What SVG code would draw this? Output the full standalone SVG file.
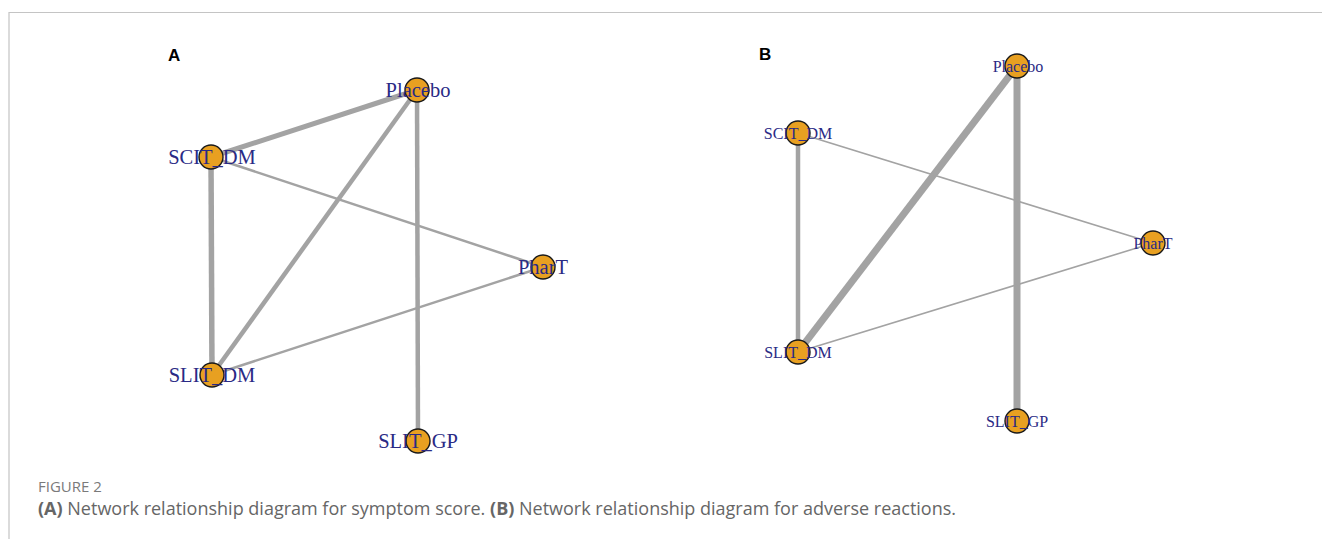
<svg xmlns="http://www.w3.org/2000/svg" width="1322" height="539" viewBox="0 0 1322 539">
  <style>
    .frame { stroke: #c4c4c4; stroke-width: 1.2; fill: none; }
    .panel { font-family: "Liberation Sans", Arial, sans-serif; font-weight: bold; font-size: 17px; fill: #000; }
    .edge { stroke: #a3a3a3; stroke-linecap: butt; fill: none; }
    .node circle { fill: #e8a021; stroke: #1a1a1a; stroke-width: 1.4; }
    .lblA { font-family: "Liberation Serif", "Times New Roman", serif; font-size: 20.5px; fill: #2a2a85; text-anchor: middle; }
    .lblB { font-family: "Liberation Serif", "Times New Roman", serif; font-size: 16px; fill: #2a2a85; text-anchor: middle; }
    .fig { font-family: "Open Sans", "Noto Sans", sans-serif; font-size: 15px; fill: #7a7a7a; }
    .cap { font-family: "Open Sans", "Noto Sans", sans-serif; font-size: 18px; fill: #666; }
    .cap tspan.b { font-weight: bold; }
  </style>
  <rect width="1322" height="539" fill="#fff"/>
  <!-- figure frame: top rule and left rule -->
  <path class="frame" d="M9 539 V12.5 H1322"/>

  <text class="panel" x="168" y="61">A</text>
  <text class="panel" x="759" y="60">B</text>

  <!-- panel A connectors -->
  <g id="edges-A">
    <line class="edge" x1="211" y1="157" x2="417" y2="90" stroke-width="5"/>
    <line class="edge" x1="212" y1="375" x2="417" y2="90" stroke-width="4.5"/>
    <line class="edge" x1="418" y1="441" x2="417" y2="90" stroke-width="4.5"/>
    <line class="edge" x1="211" y1="157" x2="212" y2="375" stroke-width="5.5"/>
    <line class="edge" x1="211" y1="157" x2="543" y2="267" stroke-width="2.5"/>
    <line class="edge" x1="212" y1="375" x2="543" y2="267" stroke-width="2.5"/>
  </g>

  <!-- panel A nodes -->
  <g id="A-Placebo" class="node"><circle cx="417" cy="90" r="12"/><text class="lblA" x="418" y="97">Placebo</text></g>
  <g id="A-SCIT_DM" class="node"><circle cx="211" cy="157" r="12"/><text class="lblA" x="212" y="164">SCIT_DM</text></g>
  <g id="A-PharT" class="node"><circle cx="543" cy="267" r="12"/><text class="lblA" x="543" y="274">PharT</text></g>
  <g id="A-SLIT_DM" class="node"><circle cx="212" cy="375" r="12"/><text class="lblA" x="212" y="382">SLIT_DM</text></g>
  <g id="A-SLIT_GP" class="node"><circle cx="418" cy="441" r="12"/><text class="lblA" x="418" y="448">SLIT_GP</text></g>

  <!-- panel B connectors -->
  <g id="edges-B">
    <line class="edge" x1="798" y1="352" x2="1017" y2="66" stroke-width="7"/>
    <line class="edge" x1="1017" y1="421" x2="1017" y2="66" stroke-width="7"/>
    <line class="edge" x1="798" y1="133" x2="798" y2="352" stroke-width="4.5"/>
    <line class="edge" x1="798" y1="133" x2="1153" y2="243" stroke-width="1.6"/>
    <line class="edge" x1="798" y1="352" x2="1153" y2="243" stroke-width="1.6"/>
  </g>

  <!-- panel B nodes -->
  <g id="B-Placebo" class="node"><circle cx="1017" cy="66" r="12"/><text class="lblB" x="1018" y="72">Placebo</text></g>
  <g id="B-SCIT_DM" class="node"><circle cx="798" cy="133" r="12"/><text class="lblB" x="798" y="139">SCIT_DM</text></g>
  <g id="B-PharT" class="node"><circle cx="1153" cy="243" r="12"/><text class="lblB" x="1153" y="249">PharT</text></g>
  <g id="B-SLIT_DM" class="node"><circle cx="798" cy="352" r="12"/><text class="lblB" x="798" y="358">SLIT_DM</text></g>
  <g id="B-SLIT_GP" class="node"><circle cx="1017" cy="421" r="12"/><text class="lblB" x="1017" y="427">SLIT_GP</text></g>

  <!-- caption -->
  <text class="fig" x="38" y="492">FIGURE 2</text>
  <text class="cap" x="38" y="515"><tspan class="b">(A)</tspan> Network relationship diagram for symptom score. <tspan class="b">(B)</tspan> Network relationship diagram for adverse reactions.</text>
</svg>
